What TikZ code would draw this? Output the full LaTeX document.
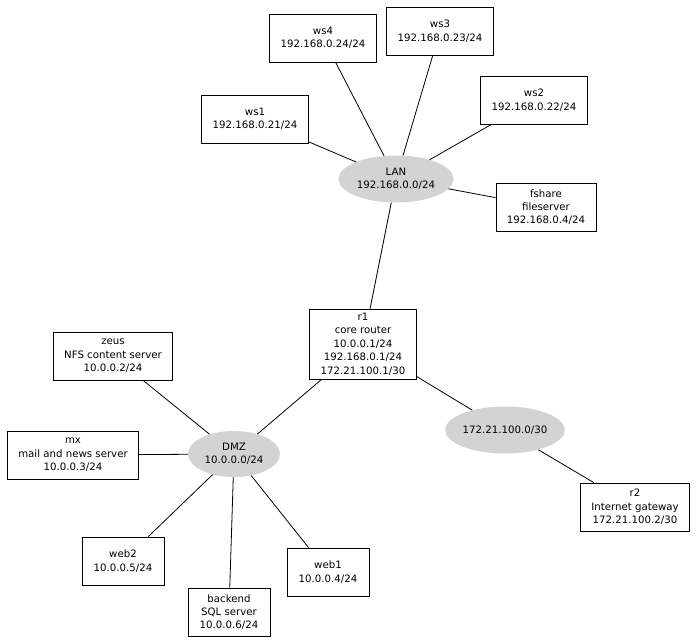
\documentclass[tikz,border=0pt]{standalone}
\usepackage{fontspec}
\setmainfont{DejaVu Sans}
\usetikzlibrary{shapes.geometric}
\definecolor{netgray}{HTML}{D3D3D3}
\tikzset{host/.style={draw,rectangle,align=center,minimum width=82pt,minimum height=48pt,
    inner xsep=11pt,inner ysep=4pt,line width=.8pt,font=\fontsize{10.2}{13.4}\selectfont},
  net/.style={ellipse,fill=netgray,align=center,inner sep=0pt,font=\fontsize{10.2}{13.4}\selectfont},
  link/.style={line width=.8pt}}

\begin{document}
\begin{tikzpicture}[x=1pt,y=-1pt]
\useasboundingbox (0,0) rectangle (699,643);
% LAN side
\node[net,minimum width=115pt,minimum height=47pt] (lan) at (396,179) {LAN\\192.168.0.0/24};
\node[host] (ws4) at (323,38) {ws4\\192.168.0.24/24};
\node[host] (ws3) at (440,31) {ws3\\192.168.0.23/24};
\node[host] (ws1) at (255,119) {ws1\\192.168.0.21/24};
\node[host] (ws2) at (534,100) {ws2\\192.168.0.22/24};
\node[host] (fshare) at (546,207) {fshare\\fileserver\\192.168.0.4/24};
% router
\node[host] (r1) at (363,344) {r1\\core router\\10.0.0.1/24\\192.168.0.1/24\\172.21.100.1/30};
% DMZ side
\node[net,minimum width=92pt,minimum height=46pt] (dmz) at (234,454) {DMZ\\10.0.0.0/24};
\node[host] (zeus) at (113,356) {zeus\\NFS content server\\10.0.0.2/24};
\node[host] (mx) at (73,455) {mx\\mail and news server\\10.0.0.3/24};
\node[host] (web2) at (123,561) {web2\\10.0.0.5/24};
\node[host] (backend) at (229,612) {backend\\SQL server\\10.0.0.6/24};
\node[host] (web1) at (328,572) {web1\\10.0.0.4/24};
% uplink
\node[net,minimum width=117pt,minimum height=47pt] (wan) at (505,430) {172.21.100.0/30};
\node[host] (r2) at (635,507) {r2\\Internet gateway\\172.21.100.2/30};

\foreach \h in {ws4,ws3,ws1,ws2,fshare,r1}
  \draw[link] (lan) -- (\h);
\foreach \h in {r1,zeus,mx,web2,backend,web1}
  \draw[link] (dmz) -- (\h);
\draw[link] (r1) -- (wan);
\draw[link] (wan) -- (r2);
\end{tikzpicture}
\end{document}
